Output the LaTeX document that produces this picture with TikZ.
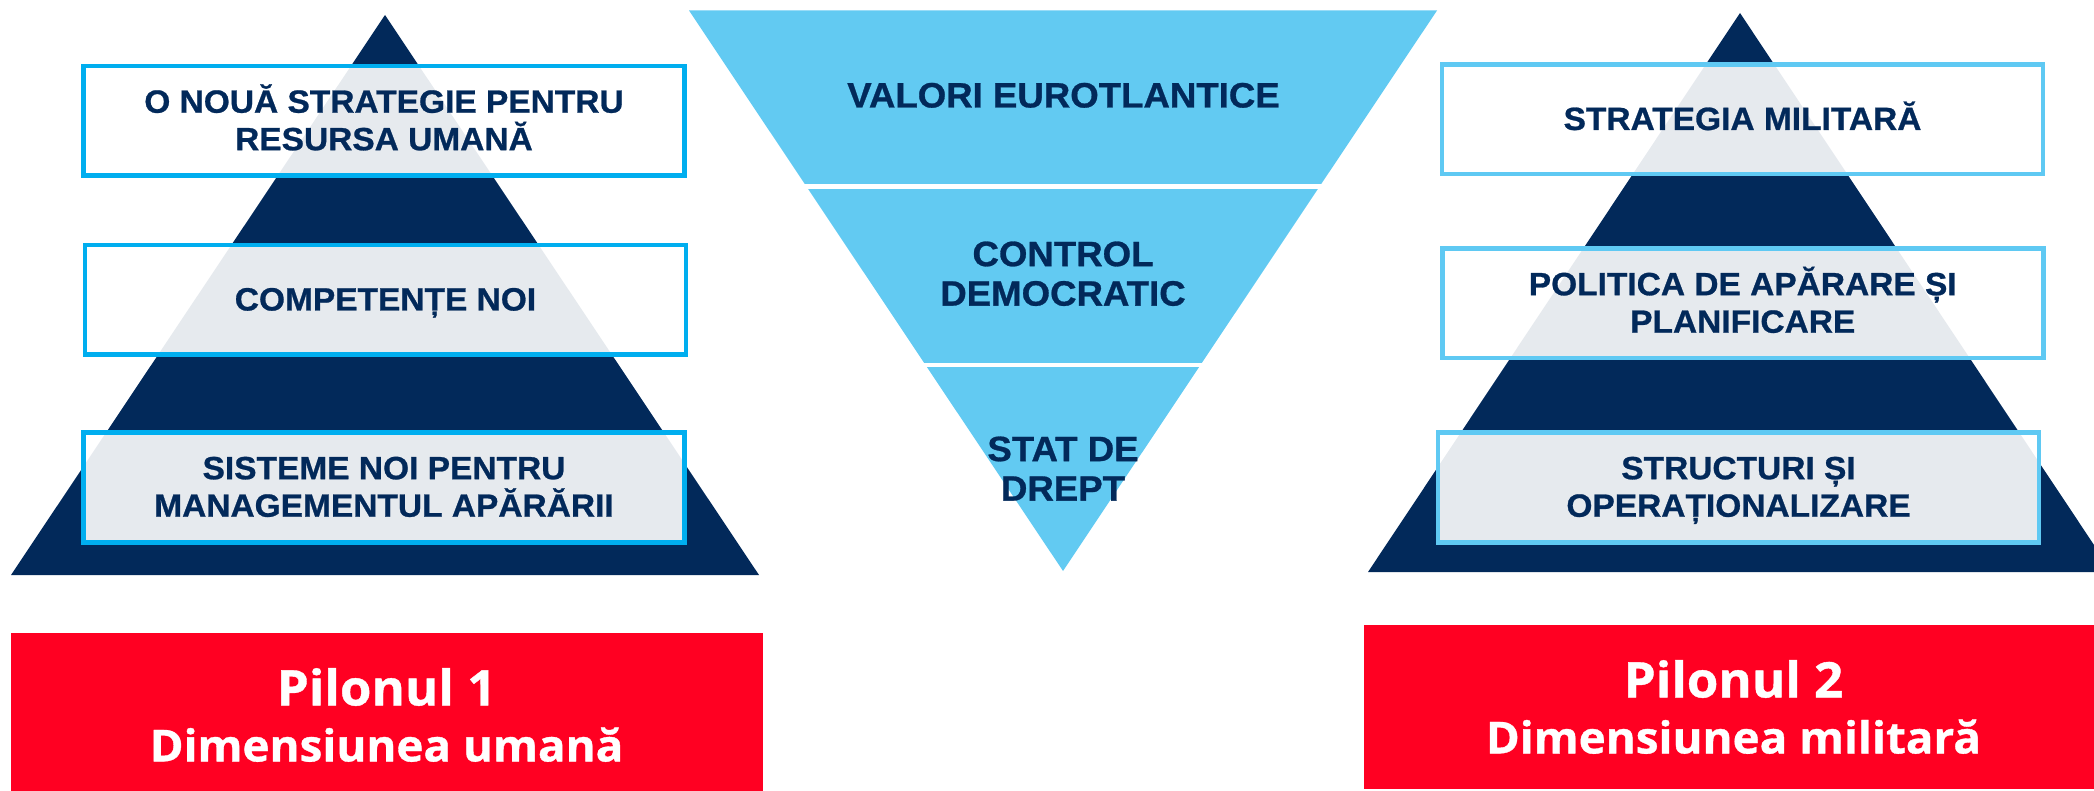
\documentclass[tikz,border=0pt]{standalone}
\usepackage{fontspec}
\setmainfont{Liberation Sans}[FakeStretch=1.04, BoldFeatures={FakeBold=0.8}]
\newfontfamily\pilfont{Open Sans}[FakeStretch=1.04, BoldFeatures={FakeBold=0.8}]
\definecolor{navy}{HTML}{02295A}
\definecolor{cyanA}{HTML}{00AEEF}
\definecolor{cyanB}{HTML}{5FC9F3}
\definecolor{skyblue}{HTML}{62CAF2}
\definecolor{redbox}{HTML}{FF0022}
\newcommand{\phtop}{\vphantom{Ă}}
\newcommand{\phbot}{\vphantom{Ș}}
\begin{document}
\begin{tikzpicture}[x=1pt,y=-1pt,
  pyramid/.style={fill=navy},
  itembox/.style={line width=4.5pt, fill=white, fill opacity=0.9, text opacity=1,
    minimum width=601pt, minimum height=109.5pt, inner sep=0pt, text=navy, align=center,
    font=\bfseries\fontsize{32.2}{37.5}\selectfont},
  lbox/.style={itembox, draw=cyanA},
  rbox/.style={itembox, draw=cyanB},
  midtext/.style={inner sep=0pt, text=navy, align=center,
    font=\bfseries\fontsize{35.2}{39.5}\selectfont},
  pillar/.style={fill=redbox, inner sep=0pt, text=white, align=center,
    font=\pilfont\bfseries\fontsize{44}{56}\selectfont},
  sep/.style={draw=white, line width=4.5pt}]
\useasboundingbox (0,0) rectangle (2094,791);
\begin{scope}
\clip (0,0) rectangle (2094,791);
% pyramids
\fill[pyramid] (385,15) -- (759,575) -- (11,575) -- cycle;
\fill[pyramid] (1740,13) -- (2112,572) -- (1368,572) -- cycle;
% inverted triangle
\fill[skyblue] (689,10.5) -- (1437,10.5) -- (1063,571) -- cycle;
\coordinate (s1a) at (790,186.5);
\coordinate (s1b) at (1336,186.5);
\coordinate (s2a) at (910,365);
\coordinate (s2b) at (1216,365);
\draw[sep] (s1a) -- (s1b);
\draw[sep] (s2a) -- (s2b);
% left boxes
\node[lbox] (l1) at (384,121) {\phtop O NOUĂ STRATEGIE PENTRU\\RESURSA UMANĂ\phbot};
\node[lbox] (l2) at (385.5,300) {\phtop COMPETENȚE NOI\phbot};
\node[lbox] (l3) at (384,487.5) {\phtop SISTEME NOI PENTRU\\MANAGEMENTUL APĂRĂRII\phbot};
% right boxes
\node[rbox] (r1) at (1742.5,119.5) {\phtop STRATEGIA MILITARĂ\phbot};
\node[rbox] (r2) at (1742.75,303.5) {\phtop POLITICA DE APĂRARE ȘI\\PLANIFICARE\phbot};
\node[rbox] (r3) at (1738.5,487.5) {\phtop STRUCTURI ȘI\\OPERAȚIONALIZARE\phbot};
% middle texts
\node[midtext] (m1) at (1063.5,96) {\phtop VALORI EUROTLANTICE\phbot};
\node[midtext] (m2) at (1063,274.4) {\phtop CONTROL\\DEMOCRATIC\phbot};
\node[midtext] (m3) at (1063,469.4) {\phtop STAT DE\\DREPT\phbot};
% pillars
\node[pillar, minimum width=752pt, minimum height=164pt] (p1) at (386.6,715)
  {{\fontsize{49}{56}\selectfont Pilonul 1}\\Dimensiunea umană};
\node[pillar, minimum width=740pt, minimum height=164pt] (p2) at (1733.5,707)
  {{\fontsize{49}{56}\selectfont Pilonul 2}\\Dimensiunea militară};
\end{scope}
\end{tikzpicture}
\end{document}
